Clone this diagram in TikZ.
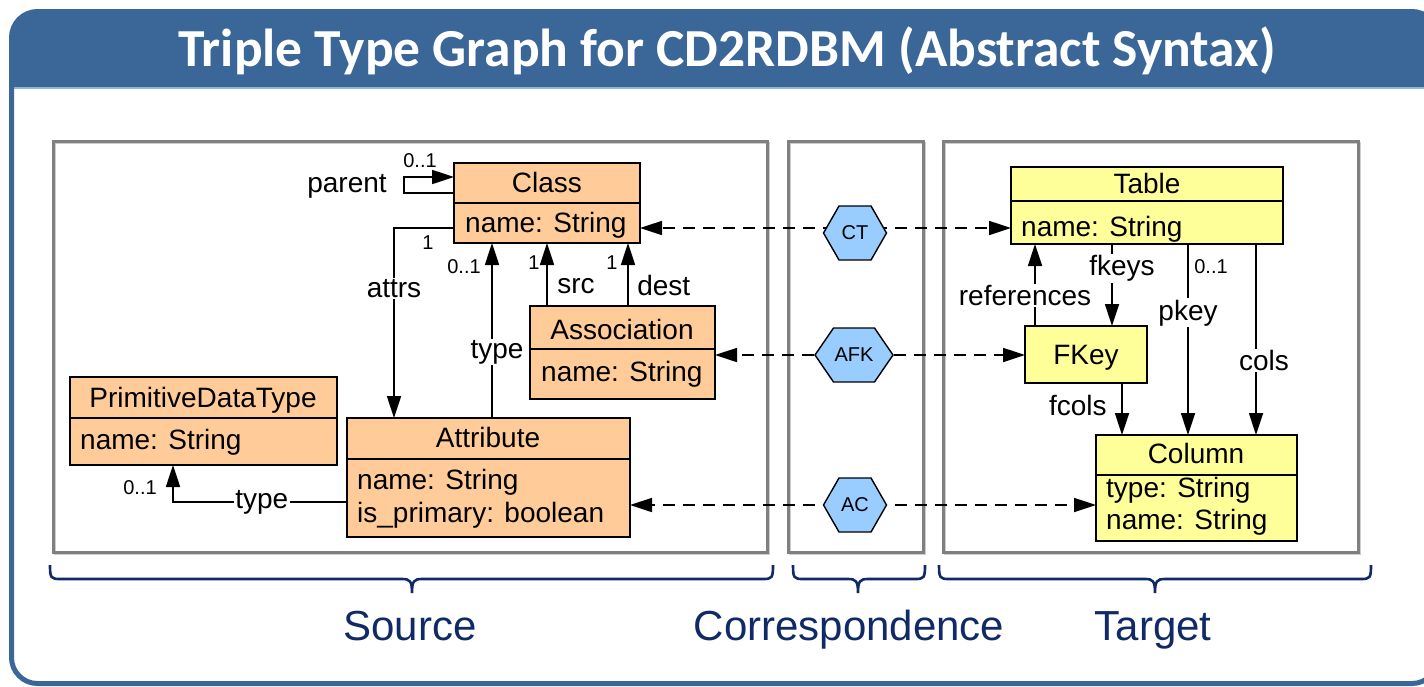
\documentclass[tikz,border=0pt]{standalone}
\usepackage{fontspec}
\setmainfont{Liberation Sans}
\newfontfamily\titlefont{Carlito}
\usetikzlibrary{arrows.meta,calc}
\pgfdeclarelayer{bg}
\pgfsetlayers{bg,main}

\definecolor{frameblue}{RGB}{58,102,152}
\definecolor{barline}{RGB}{150,180,215}
\definecolor{panelgray}{RGB}{128,128,128}
\definecolor{shadowgray}{RGB}{205,205,205}
\definecolor{srcfill}{RGB}{255,204,153}
\definecolor{tgtfill}{RGB}{255,255,153}
\definecolor{corrfill}{RGB}{153,204,255}
\definecolor{navy}{RGB}{16,42,104}

% correspondence node: hexagon with pointed left/right ends
% #1 name, #2 cx, #3 cy, #4 half width, #5 half top edge, #6 label
\newcommand\corrhex[6]{%
  \filldraw[hexline] (#2-#4,#3) -- (#2-#5,#3-27) -- (#2+#5,#3-27) -- (#2+#4,#3)
    -- (#2+#5,#3+27) -- (#2-#5,#3+27) -- cycle;
  \node[hextxt, minimum width={2*#4pt}, minimum height=54pt] (#1) at (#2,#3) {#6};%
}

% curly brace under a group: #1 left x, #2 tip x, #3 right x
\newcommand\groupbrace[3]{%
  \draw[bracestyle] (#1,565) .. controls (#1,578) and (#1+1,579) .. (#1+10,579)
    -- (#2-10,579) .. controls (#2-2,579) and (#2,581) .. (#2,593)
    .. controls (#2,581) and (#2+2,579) .. (#2+10,579)
    -- (#3-10,579) .. controls (#3-1,579) and (#3,578) .. (#3,565);%
}

\begin{document}
\begin{tikzpicture}[x=1pt,y=-1pt,
  box/.style={draw=black, line width=1.6pt, inner sep=0pt, outer sep=0pt},
  boxrule/.style={draw=black, line width=1.6pt},
  boxtxt/.style={font=\fontsize{28}{31}\selectfont, inner sep=0pt, text height=20pt, text depth=0pt},
  lbl/.style={font=\fontsize{28}{31}\selectfont, inner sep=1.5pt},
  onlbl/.style={lbl, fill=white},
  mult/.style={font=\fontsize{20}{22}\selectfont, inner sep=0pt},
  umlarrow/.style={line width=1.7pt, -{Triangle[length=22pt,width=14pt]}},
  corrarrow/.style={line width=1.7pt, dash pattern=on 12pt off 8pt, -{Triangle[length=22pt,width=14pt]}},
  hexline/.style={draw=black, line width=1.4pt, fill=corrfill},
  hextxt/.style={font=\fontsize{20}{22}\selectfont, inner sep=0pt},
  panel/.style={draw=panelgray, line width=3pt},
  panelshadow/.style={draw=shadowgray, line width=2pt},
  bracestyle/.style={draw=navy, line width=2.6pt},
  grouplbl/.style={font=\fontsize{42}{48}\selectfont, text=navy, inner sep=0pt, anchor=base},
]
\useasboundingbox (0,0) rectangle (1424,686);
\clip (0,0) rectangle (1424,686);

% slide frame and title bar
\begin{scope}
  \clip[rounded corners=26pt] (11.5,11.5) rectangle (1438,683.5);
  \fill[frameblue] (0,0) rectangle (1440,87);
\end{scope}
\draw[barline, line width=1.5pt] (14,88) -- (1424,88);
\draw[frameblue, line width=5pt, rounded corners=26pt] (11.5,11.5) rectangle (1438,683.5);
\node[font=\titlefont\bfseries\fontsize{53.5}{60}\selectfont, text=white, anchor=base, inner sep=0pt]
  (title) at (727,66) {Triple Type Graph for CD2RDBM (Abstract Syntax)};

% the three graph panels
\begin{pgfonlayer}{bg}
  \draw[panelshadow] (55,143) rectangle (769,554);
  \draw[panelshadow] (790,143) rectangle (925,554);
  \draw[panelshadow] (945,143) rectangle (1360,554);
  \draw[panel] (53,141) rectangle (767,552);
  \draw[panel] (788,141) rectangle (923,552);
  \draw[panel] (943,141) rectangle (1358,552);
\end{pgfonlayer}

% ---------- source classes ----------
\node[box, fill=srcfill, minimum width=186pt, minimum height=80pt] (class) at (547,203) {};
\draw[boxrule] (class.west) -- (class.east);
\node[boxtxt] at (547,182) {Class};
\node[boxtxt, anchor=west] at (465,222) {name: String};

\node[box, fill=srcfill, minimum width=185pt, minimum height=93pt] (association) at (622.5,352.5) {};
\draw[boxrule] (530,349) -- (715,349);
\node[boxtxt] at (622,329) {Association};
\node[boxtxt, anchor=west] at (541,371) {name: String};

\node[box, fill=srcfill, minimum width=283pt, minimum height=119pt] (attribute) at (488.5,477.5) {};
\draw[boxrule] (347,459) -- (630,459);
\node[boxtxt] at (488,437) {Attribute};
\node[boxtxt, anchor=west] at (357,479) {name: String};
\node[boxtxt, anchor=west] at (357,512) {is\_primary: boolean};

\node[box, fill=srcfill, minimum width=267pt, minimum height=88pt] (prim) at (203.5,421) {};
\draw[boxrule] (70,418) -- (337,418);
\node[boxtxt] at (203,397) {PrimitiveDataType};
\node[boxtxt, anchor=west] at (80,439) {name: String};

% ---------- target tables ----------
\node[box, fill=tgtfill, minimum width=272pt, minimum height=77pt] (table) at (1147,205.5) {};
\draw[boxrule] (1011,201) -- (1283,201);
\node[boxtxt] at (1147,183) {Table};
\node[boxtxt, anchor=west] at (1021,226) {name: String};

\node[box, fill=tgtfill, minimum width=122pt, minimum height=57pt] (fkey) at (1086,354.5) {};
\node[boxtxt] at (1086,354) {FKey};

\node[box, fill=tgtfill, minimum width=201pt, minimum height=106pt] (column) at (1196.5,488) {};
\draw[boxrule] (1096,475) -- (1297,475);
\node[boxtxt] at (1196,453) {Column};
\node[boxtxt, anchor=west] at (1106,487) {type: String};
\node[boxtxt, anchor=west] at (1106,519) {name: String};

% ---------- correspondence nodes ----------
\corrhex{ct}{855}{233}{31.5}{16}{CT}
\corrhex{afk}{854}{355}{39}{20.5}{AFK}
\corrhex{ac}{855}{505}{31.5}{16}{AC}

% ---------- edges ----------
\begin{pgfonlayer}{bg}
  % source graph
  \draw[umlarrow] ([yshift=10pt]class.west) -- ++(-50,0) |- ([yshift=26pt]class.west);
  \draw[umlarrow] ([yshift=-25pt]class.west) -| ([xshift=-94.5pt]attribute.north)
    node[onlbl, pos=0.66] {attrs};
  \draw[umlarrow] ([xshift=3.5pt]attribute.north) -- ([xshift=3.5pt]attribute.north |- class.south)
    node[onlbl, pos=0.377, xshift=5pt] {type};
  \draw[umlarrow] ([xshift=-75.5pt]association.north) -- ([xshift=-75.5pt]association.north |- class.south)
    node[lbl, pos=0.32, right=8pt] {src};
  \draw[umlarrow] ([xshift=5.5pt]association.north) -- ([xshift=5.5pt]association.north |- class.south)
    node[lbl, pos=0.32, right=7pt] {dest};
  \draw[umlarrow] ([yshift=-24.5pt]attribute.west) -| ([xshift=-30.5pt]prim.south)
    node[onlbl, pos=0.245] {type};

  % target graph
  \draw[umlarrow] ([xshift=-51pt]fkey.north) -- ([xshift=-51pt]fkey.north |- table.south)
    node[onlbl, pos=0.37, xshift=-10pt] {references};
  \draw[umlarrow] ([xshift=-35pt]table.south) -- ([xshift=-35pt]table.south |- fkey.north)
    node[onlbl, pos=0.3, xshift=10pt] {fkeys};
  \draw[umlarrow] ([xshift=41pt]table.south) -- ([xshift=41pt]table.south |- column.north)
    node[onlbl, pos=0.36] {pkey};
  \draw[umlarrow] ([xshift=109pt]table.south) -- ([xshift=109pt]table.south |- column.north)
    node[onlbl, pos=0.61, xshift=8pt] {cols};
  \draw[umlarrow] ([xshift=36pt]fkey.south) -- ([xshift=36pt]fkey.south |- column.north)
    node[lbl, pos=0.44, left=13pt] {fcols};

  % correspondence morphisms
  \draw[corrarrow] ([yshift=5pt]ct.center) -- ([yshift=5pt]ct.center -| class.east);
  \draw[corrarrow] ([yshift=5pt]ct.center) -- ([yshift=5pt]ct.center -| table.west);
  \draw[corrarrow] (afk.center) -- (afk.center -| association.east);
  \draw[corrarrow] (afk.center) -- (afk.center -| fkey.west);
  \draw[corrarrow] (ac.center) -- (ac.center -| attribute.east);
  \draw[corrarrow] (ac.center) -- (ac.center -| column.west);
\end{pgfonlayer}

% edge labels and multiplicities
\node[lbl] (parentlbl) at (347,186) {parent};
\node[mult] (mparent) at (420,161) {0..1};
\node[mult] (mattrs) at (428,243) {1};
\node[mult] (mtype) at (464,267) {0..1};
\node[mult] (msrc) at (534,263) {1};
\node[mult] (mdest) at (612,263) {1};
\node[mult] (mprim) at (140,488) {0..1};
\node[mult] (mpkey) at (1211,267) {0..1};

% group braces and captions
\groupbrace{50}{412}{773}
\groupbrace{793}{858}{925}
\groupbrace{939}{1155}{1371}
\node[grouplbl] (srccap) at (410,640) {Source};
\node[grouplbl] (corrcap) at (849,640) {Correspondence};
\node[grouplbl] (tgtcap) at (1153,640) {Target};
\end{tikzpicture}
\end{document}
